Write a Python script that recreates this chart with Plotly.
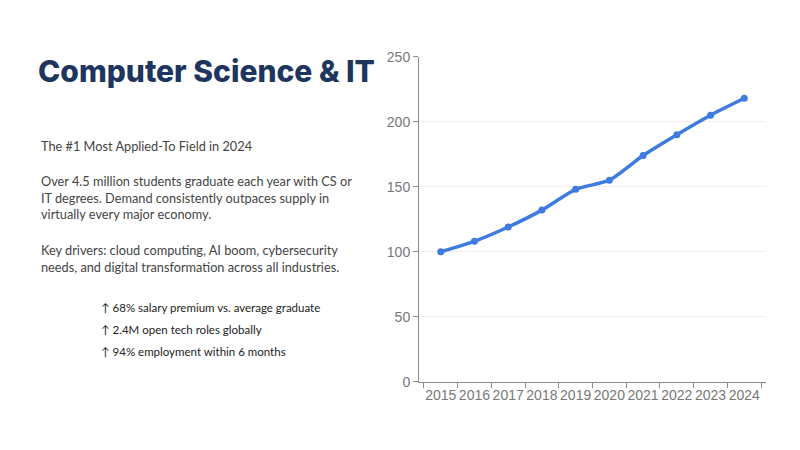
import plotly.graph_objects as go

# Data
years = ['2015', '2016', '2017', '2018', '2019', '2020', '2021', '2022', '2023', '2024']
index_values = [100, 108, 119, 132, 148, 155, 174, 190, 205, 218]
y_ticks = [0, 50, 100, 150, 200, 250]

title_text = 'Computer Science & IT'
subtitle_text = 'The #1 Most Applied-To Field in 2024'
body_lines = ['Over 4.5 million students graduate each year with CS or',
              'IT degrees. Demand consistently outpaces supply in',
              'virtually every major economy.']
driver_lines = ['Key drivers: cloud computing, AI boom, cybersecurity',
                'needs, and digital transformation across all industries.']
highlights = ['↑ 68% salary premium vs. average graduate',
              '↑ 2.4M open tech roles globally',
              '↑ 94% employment within 6 months']

BODY_FONT = 'Lato, Open Sans, sans-serif'
TEXT_GREY = '#444444'
W, H = 800, 450
PAGE_PAD = 8  # the html body margin shifts the figure by this much


def px_x(x):
    return (x - PAGE_PAD) / W


def px_y(y):
    return 1 - (y - PAGE_PAD) / H


fig = go.Figure()
fig.add_trace(go.Scatter(x=years, y=index_values, mode='lines+markers',
                         line=dict(color='#3D7BE0', width=3.5, shape='spline', smoothing=0.6),
                         marker=dict(color='#3D7BE0', size=7),
                         showlegend=False, hoverinfo='x+y'))

axis_grey = '#8c8c8c'
tick_font = dict(family='Liberation Sans, Arial', size=14, color='#777777')
fig.update_layout(
    width=W, height=H,
    margin=dict(l=0, r=0, t=0, b=0),
    paper_bgcolor='white', plot_bgcolor='white',
    xaxis=dict(domain=[px_x(419), px_x(766)], type='category', tickson='boundaries',
               ticks='outside', ticklen=5, tickcolor=axis_grey, tickangle=0,
               showline=True, linecolor=axis_grey, linewidth=1,
               showgrid=False, automargin=False, tickfont=tick_font),
    yaxis=dict(domain=[px_y(381.7), px_y(56.7)], range=[0, 250],
               tickvals=y_ticks, ticks='outside', ticklen=5, tickcolor=axis_grey,
               showline=True, linecolor=axis_grey, linewidth=1,
               gridcolor='#f0eef4', gridwidth=1, zeroline=False, automargin=False,
               tickfont=tick_font),
)

# Title
fig.add_annotation(text=title_text, xref='paper', yref='paper',
                   x=px_x(36), y=px_y(71), xanchor='left', yanchor='middle',
                   showarrow=False,
                   font=dict(family='Inter, Noto Sans, sans-serif', size=30, weight=800,
                             color='#1E3560'))

# Body paragraphs
line_specs = [(subtitle_text, 146)]
for i, line in enumerate(body_lines):
    line_specs.append((line, 181 + i * 16.5))
for i, line in enumerate(driver_lines):
    line_specs.append((line, 250 + i * 16.5))
for text, ypix in line_specs:
    fig.add_annotation(text=text, xref='paper', yref='paper',
                       x=px_x(39), y=px_y(ypix), xanchor='left', yanchor='middle',
                       showarrow=False,
                       font=dict(family=BODY_FONT, size=12.75, color=TEXT_GREY))

for i, text in enumerate(highlights):
    fig.add_annotation(text=text, xref='paper', yref='paper',
                       x=px_x(99), y=px_y(307 + i * 22), xanchor='left', yanchor='middle',
                       showarrow=False,
                       font=dict(family=BODY_FONT, size=11.5, color='#222222'))

fig.write_html('out.html')
